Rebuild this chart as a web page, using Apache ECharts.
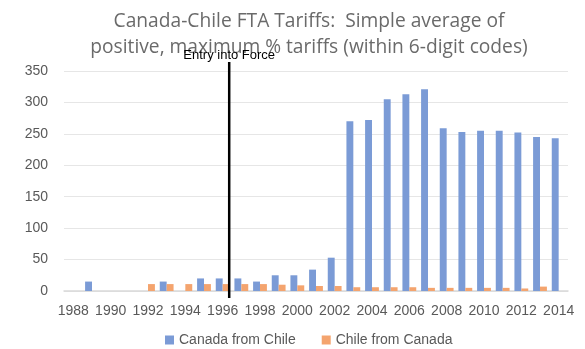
<!DOCTYPE html>
<html>
<head>
<meta charset="utf-8">
<script src="https://cdn.jsdelivr.net/npm/echarts@6/dist/echarts.min.js"></script>
<style>
  html, body { margin: 0; padding: 0; background: #fff; }
  #chart { width: 585px; height: 349px; }
</style>
</head>
<body>
<div id="chart"></div>
<script>
// Years on the category axis
const years = ['1988','1989','1990','1991','1992','1993','1994','1995','1996','1997','1998','1999','2000','2001',
  '2002','2003','2004','2005','2006','2007','2008','2009','2010','2011','2012','2013','2014'];

// Simple average of positive maximum tariffs (%)
const canadaFromChile = [0, 15, 0, 0, 0, 15, 0, 20, 20, 20, 15, 25, 25, 34,
  53, 270, 272, 305, 313, 321, 259, 253, 255, 255, 252, 245, 243];
const chileFromCanada = [0, 0, 0, 0, 11, 11, 11, 11, 11, 11, 11, 10, 9, 8,
  8, 6, 6, 6, 6, 5, 5, 5, 5, 5, 4, 7, 0];

// Entry into force of the agreement (position on the year scale)
const entryYear = 1996.35;
const entryLabel = 'Entry into Force';

const FONT = 'Liberation Sans, sans-serif';
const TITLE_FONT = 'Open Sans, sans-serif';
const GRAY = '#595959';

const chart = echarts.init(document.getElementById('chart'));
chart.setOption({
  animation: false,
  title: {
    text: 'Canada-Chile FTA Tariffs:  Simple average of\npositive, maximum % tariffs (within 6-digit codes)',
    left: 304,
    textAlign: 'center',
    top: 4,
    textStyle: { fontFamily: TITLE_FONT, fontSize: 19.2, fontWeight: 'normal', color: '#6a6a6a', lineHeight: 26 }
  },
  legend: {
    top: 328,
    left: 160,
    itemWidth: 9,
    itemHeight: 9,
    itemGap: 26,
    icon: 'rect',
    textStyle: { fontFamily: FONT, fontSize: 14, color: GRAY }
  },
  grid: { left: 64, right: 17, top: 71, bottom: 58 },
  xAxis: [{
    type: 'category',
    data: years,
    axisTick: { show: false },
    axisLine: { lineStyle: { color: '#d9d9d9', width: 1.5 } },
    axisLabel: { interval: 1, fontFamily: FONT, fontSize: 14, color: GRAY, margin: 13 }
  }, {
    type: 'value',
    min: 1987.5,
    max: 2014.5,
    show: false
  }],
  yAxis: {
    type: 'value',
    min: 0,
    max: 350,
    interval: 50,
    axisLine: { show: false },
    axisTick: { show: false },
    splitLine: { lineStyle: { color: '#e6e6e6', width: 1 } },
    axisLabel: { fontFamily: FONT, fontSize: 14, color: GRAY, margin: 16 }
  },
  series: [{
    name: 'Canada from Chile',
    type: 'bar',
    data: canadaFromChile,
    itemStyle: { color: '#7B9BD6' },
    barGap: '0%',
    barCategoryGap: '26%'
  }, {
    name: 'Chile from Canada',
    type: 'bar',
    data: chileFromCanada,
    itemStyle: { color: '#F4A46E' }
  }]
});

// Vertical marker for the entry into force
const x = chart.convertToPixel({ xAxisIndex: 1 }, entryYear);
const yBottom = chart.convertToPixel({ yAxisIndex: 0 }, 0);
const yTop = chart.convertToPixel({ yAxisIndex: 0 }, 350);
chart.setOption({
  graphic: [{
    type: 'line',
    shape: { x1: x, y1: yTop - 9, x2: x, y2: yBottom + 7 },
    style: { stroke: '#000', lineWidth: 2.5 },
    z: 100
  }, {
    type: 'text',
    x: x,
    y: yTop - 9,
    style: { text: entryLabel, fill: '#000', font: '13px ' + FONT, textAlign: 'center', textVerticalAlign: 'bottom' },
    z: 100
  }]
});
</script>
</body>
</html>
